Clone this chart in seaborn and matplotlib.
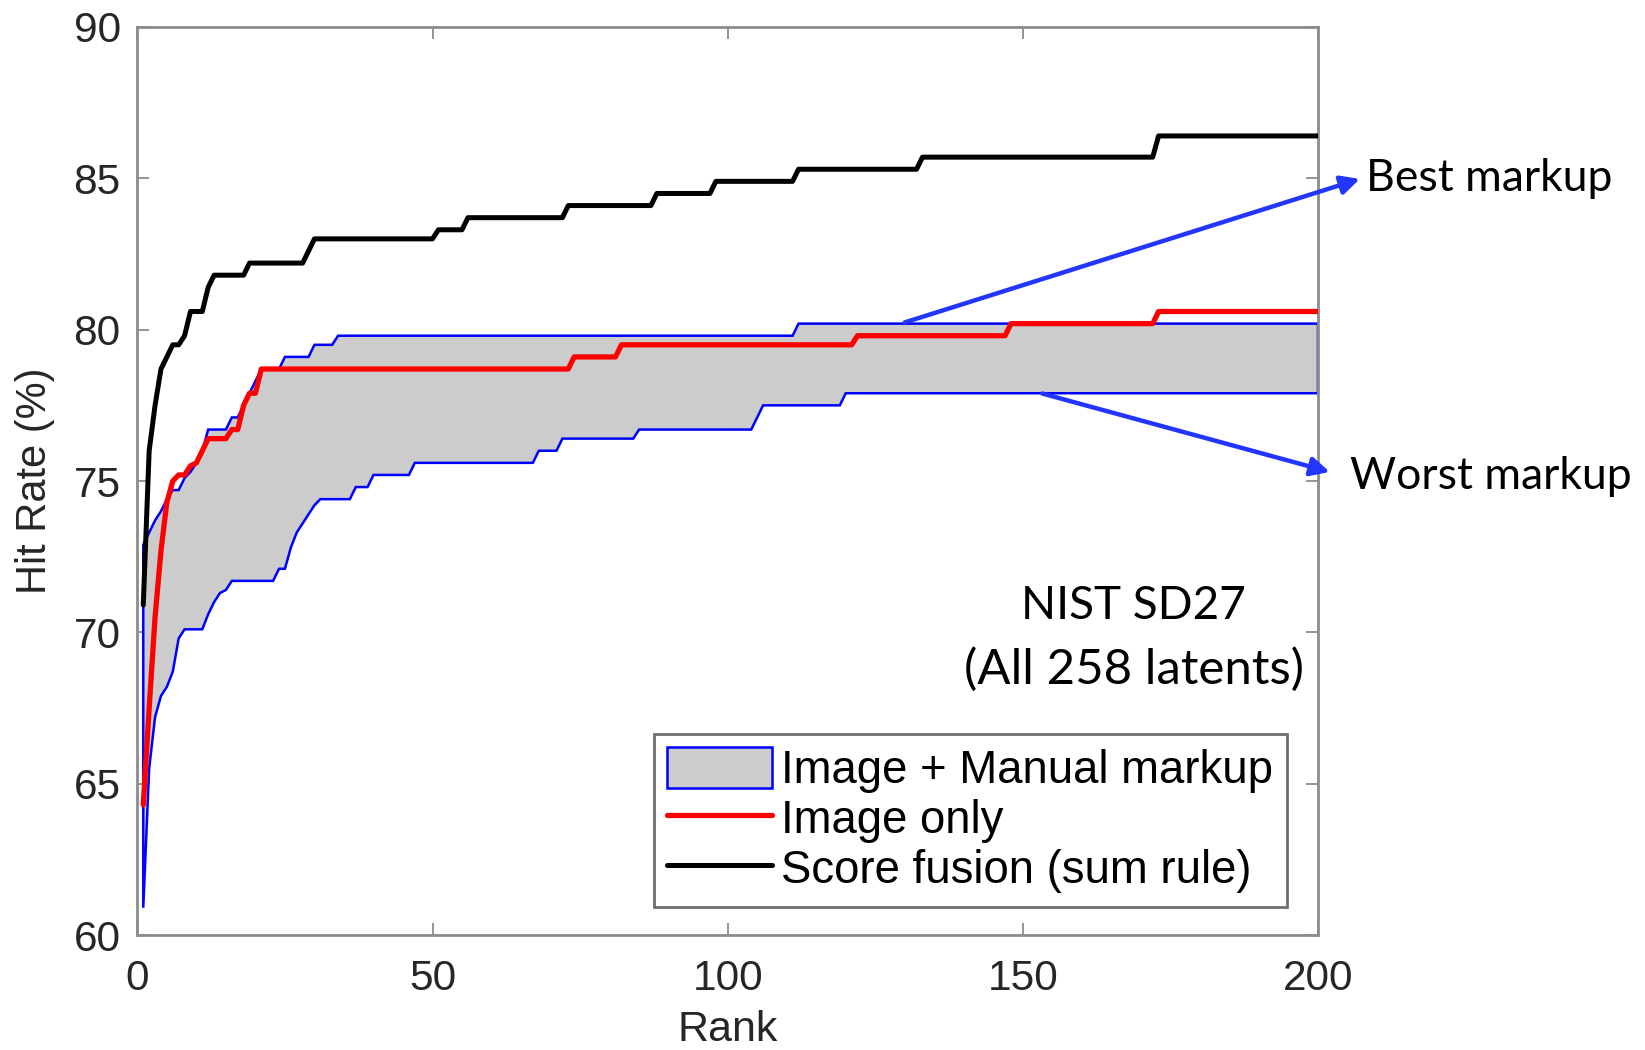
import numpy as np
import matplotlib
matplotlib.use("Agg")
import matplotlib.pyplot as plt
import seaborn as sns
from matplotlib.patches import Patch
from matplotlib.lines import Line2D

# ---- data (rank, hit rate %) ----
fusion_rank = [1, 2, 3, 4, 5, 6, 7, 8, 9, 11, 12, 13, 18, 19, 28, 30, 50, 51, 55, 56,
               72, 73, 87, 88, 97, 98, 111, 112, 132, 133, 172, 173, 200]
fusion_hit = [70.9, 76.0, 77.5, 78.7, 79.1, 79.5, 79.5, 79.8, 80.6, 80.6, 81.4, 81.8, 81.8,
              82.2, 82.2, 83.0, 83.0, 83.3, 83.3, 83.7, 83.7, 84.1, 84.1, 84.5, 84.5, 84.9,
              84.9, 85.3, 85.3, 85.7, 85.7, 86.4, 86.4]

image_rank = [1, 2, 3, 4, 5, 6, 7, 8, 9, 10, 11, 12, 15, 16, 17, 18, 19, 20, 21, 73, 74,
              81, 82, 121, 122, 147, 148, 172, 173, 200]
image_hit = [64.3, 67.5, 70.5, 72.7, 74.3, 75.0, 75.2, 75.2, 75.5, 75.6, 76.0, 76.4, 76.4,
             76.7, 76.7, 77.5, 77.9, 77.9, 78.7, 78.7, 79.1, 79.1, 79.5, 79.5, 79.8, 79.8,
             80.2, 80.2, 80.6, 80.6]

best_rank = [1, 2, 3, 4, 5, 6, 7, 8, 9, 10, 11, 12, 15, 16, 17, 18, 19, 20, 21, 24, 25,
             29, 30, 33, 34, 111, 112, 200]
best_hit = [72.9, 73.3, 73.7, 74.0, 74.4, 74.7, 74.7, 75.1, 75.3, 75.6, 76.0, 76.7, 76.7,
            77.1, 77.1, 77.5, 77.9, 78.3, 78.7, 78.7, 79.1, 79.1, 79.5, 79.5, 79.8, 79.8,
            80.2, 80.2]

worst_rank = [1, 2, 3, 4, 5, 6, 7, 8, 11, 12, 13, 14, 15, 16, 23, 24, 25, 26, 27, 28, 29,
              30, 31, 36, 37, 39, 40, 46, 47, 67, 68, 71, 72, 84, 85, 104, 105, 106, 119,
              120, 200]
worst_hit = [60.9, 65.5, 67.2, 67.9, 68.2, 68.7, 69.8, 70.1, 70.1, 70.6, 71.0, 71.3, 71.4,
             71.7, 71.7, 72.1, 72.1, 72.8, 73.3, 73.6, 73.9, 74.2, 74.4, 74.4, 74.8, 74.8,
             75.2, 75.2, 75.6, 75.6, 76.0, 76.0, 76.4, 76.4, 76.7, 76.7, 77.1, 77.5, 77.5,
             77.9, 77.9]

x_ticks = [0, 50, 100, 150, 200]
y_ticks = [60, 65, 70, 75, 80, 85, 90]
legend_labels = ["Image + Manual markup", "Image only", "Score fusion (sum rule)"]

# ---- style ----
sns.set_theme(style="white")
plt.rcParams["font.family"] = ["Liberation Sans", "DejaVu Sans"]

fig = plt.figure(figsize=(16.45, 10.5), dpi=100)
ax = fig.add_axes([0.0835, 0.1095, 0.7177, 0.8648])

axis_gray = "#8c8c8c"
text_dark = "#262626"
blue = "#0000ff"
arrow_blue = "#2236ff"

# shaded band between best and worst markups
poly_x = np.concatenate([best_rank, worst_rank[::-1]])
poly_y = np.concatenate([best_hit, worst_hit[::-1]])
ax.fill(poly_x, poly_y, facecolor="#cccccc", edgecolor=blue, linewidth=1.8, zorder=2)

sns.lineplot(x=image_rank, y=image_hit, color="#ff0000", linewidth=3.8, ax=ax,
             legend=False, zorder=3)
sns.lineplot(x=fusion_rank, y=fusion_hit, color="black", linewidth=3.6, ax=ax,
             legend=False, zorder=4)

ax.set_xlim(0, 200)
ax.set_ylim(60, 90)
ax.set_xticks(x_ticks)
ax.set_yticks(y_ticks)
ax.set_xticklabels([str(v) for v in x_ticks])
ax.set_yticklabels([str(v) for v in y_ticks])

for s in ax.spines.values():
    s.set_visible(True)
    s.set_color(axis_gray)
    s.set_linewidth(2.0)

ax.tick_params(axis="both", which="major", direction="in", length=8.5, width=1.3,
               color=axis_gray, labelsize=30.5, labelcolor=text_dark,
               top=True, right=True, bottom=True, left=True)
ax.tick_params(axis="x", pad=17)
ax.tick_params(axis="y", pad=12)

ax.set_xlabel("Rank", fontsize=31, color=text_dark, labelpad=8)
ax.set_ylabel("Hit Rate (%)", fontsize=30, color=text_dark, labelpad=13)

# legend
handles = [
    Patch(facecolor="#cccccc", edgecolor=blue, linewidth=1.8),
    Line2D([0], [0], color="#ff0000", linewidth=3.8),
    Line2D([0], [0], color="black", linewidth=3.6),
]
leg = ax.legend(handles, legend_labels, loc="lower right",
                bbox_to_anchor=(0.9737, 0.0308), borderaxespad=0.0,
                fontsize=32.8, frameon=True, fancybox=False, framealpha=1,
                handlelength=2.3, handleheight=1.0, handletextpad=0.2,
                borderpad=0.3, labelspacing=0.09)
leg.get_frame().set_edgecolor("#6e6e6e")
leg.get_frame().set_linewidth(2.0)
for t in leg.get_texts():
    t.set_color("black")

# annotations
ann_font = ["Lato", "DejaVu Sans"]
ax.annotate("", xy=(207.1, 84.98), xytext=(130.0, 80.24), xycoords="data",
            annotation_clip=False,
            arrowprops=dict(arrowstyle="-|>", color=arrow_blue, lw=3.2,
                            mutation_scale=28, shrinkA=0, shrinkB=0))
ax.annotate("", xy=(202.0, 75.3), xytext=(153.3, 77.89), xycoords="data",
            annotation_clip=False,
            arrowprops=dict(arrowstyle="-|>", color=arrow_blue, lw=3.2,
                            mutation_scale=28, shrinkA=0, shrinkB=0))
ax.text(208.2, 85.0, "Best markup", fontsize=32, family=ann_font, color="black",
        ha="left", va="center", clip_on=False)
ax.text(205.5, 75.15, "Worst markup", fontsize=32, family=ann_font, color="black",
        ha="left", va="center", clip_on=False)
ax.text(168.8, 70.86, "NIST SD27", fontsize=33, family=ann_font,
        color="black", ha="center", va="center")
ax.text(168.8, 68.78, "(All 258 latents)", fontsize=35.5, family=ann_font,
        color="black", ha="center", va="center")

fig.savefig("out.png", dpi=100)
